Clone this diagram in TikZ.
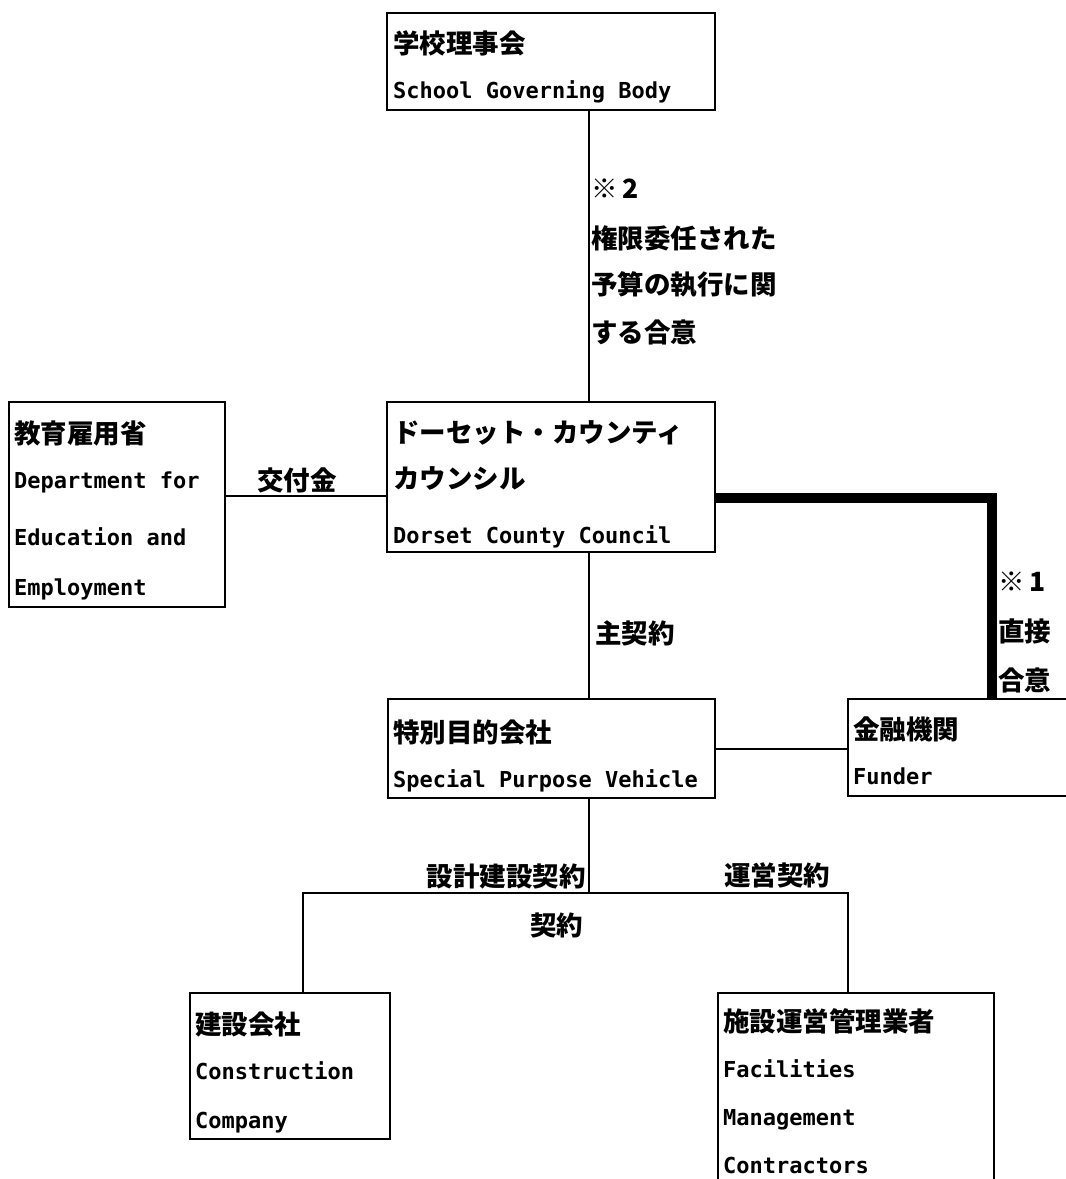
\documentclass[tikz,border=0pt]{standalone}
\usepackage{fontspec}
\setmainfont{Noto Sans CJK JP}
\newfontfamily\enfont{DejaVu Sans Mono}
\usepackage{tikz}
\usetikzlibrary{positioning}

\tikzset{
  box/.style={draw, rectangle, line width=2pt, inner sep=0pt},
  jp/.style={anchor=west, inner sep=0pt, text height=20pt, text depth=0pt,
    font=\bfseries\fontsize{26.5}{30}\selectfont},
  en/.style={anchor=west, inner sep=0pt, text height=16pt, text depth=0pt,
    font=\enfont\bfseries\fontsize{22}{26}\selectfont},
  link/.style={line width=2pt},
  heavy/.style={line width=10pt, line join=miter}
}

\begin{document}
\begin{tikzpicture}[x=1pt, y=-1pt]
  \useasboundingbox (0,0) rectangle (1066,1179);

  \node[box, minimum width=328, minimum height=97] (school) at (551,61.5) {};
  \node[box, minimum width=216, minimum height=205] (dfee) at (117,504.5) {};
  \node[box, minimum width=328, minimum height=150] (dcc) at (551,477) {};
  \node[box, minimum width=327, minimum height=99] (spv) at (551.5,748.5) {};
  \node[box, minimum width=232, minimum height=97] (funder) at (964,747.5) {};
  \node[box, minimum width=200, minimum height=146] (cc) at (290,1066) {};
  \node[box, minimum width=276, minimum height=207] (fmc) at (856,1096.5) {};

  \node[jp] (school-jp) at (393,43) {学校理事会};
  \node[en] (school-en) at (393,90) {School Governing Body};

  \node[jp] (dfee-jp) at (14,433) {教育雇用省};
  \node[en] (dfee-en1) at (14,480) {Department for};
  \node[en] (dfee-en2) at (14,537) {Education and};
  \node[en] (dfee-en3) at (14,587) {Employment};

  \node[jp] (dcc-jp1) at (393,432) {ドーセット・カウンティ};
  \node[jp] (dcc-jp2) at (393,478) {カウンシル};
  \node[en] (dcc-en) at (393,535) {Dorset County Council};

  \node[jp] (spv-jp) at (393,732) {特別目的会社};
  \node[en] (spv-en) at (393,779) {Special Purpose Vehicle};

  \node[jp] (funder-jp) at (853,729) {金融機関};
  \node[en] (funder-en) at (853,776) {Funder};

  \node[jp] (cc-jp) at (195,1024) {建設会社};
  \node[en] (cc-en1) at (195,1071) {Construction};
  \node[en] (cc-en2) at (195,1120) {Company};

  \node[jp] (fmc-jp) at (723,1021) {施設運営管理業者};
  \node[en] (fmc-en1) at (723,1069) {Facilities};
  \node[en] (fmc-en2) at (723,1117) {Management};
  \node[en] (fmc-en3) at (723,1165) {Contractors};

  \coordinate (spine) at (589,893);
  \coordinate (cctop) at (303,893);
  \coordinate (fmtop) at (848,893);
  \coordinate (grantrow) at (0,496);
  \coordinate (fundcorner) at (992,498);

  \draw[link] (school.south -| spine) -- (dcc.north -| spine);
  \draw[link] (dfee.east |- grantrow) -- (dcc.west |- grantrow);
  \draw[heavy] (dcc.east |- fundcorner) -| (funder.north -| fundcorner);
  \draw[link] (dcc.south -| spine) -- (spv.north -| spine);
  \draw[link] (spv.east) -- (spv.east -| funder.west);
  \draw[link] (spv.south -| spine) -- (spine);
  \draw[link] (cc.north -| cctop) -- (cctop) -- (fmtop) -- (fmc.north -| fmtop);

  \node[jp] (note2) at (591,188) {※\hspace{5pt}2};
  \node[jp] (deleg1) at (591,238) {権限委任された};
  \node[jp] (deleg2) at (591,284) {予算の執行に関};
  \node[jp] (deleg3) at (591,332) {する合意};
  \node[jp, anchor=center] (grant) at (297,480) {交付金};
  \node[jp] (note1) at (998,581) {※\hspace{5pt}1};
  \node[jp] (direct1) at (998,631) {直接};
  \node[jp] (direct2) at (998,680) {合意};
  \node[jp] (main) at (595,633) {主契約};
  \node[jp, anchor=east] (dbc) at (586,876) {設計建設契約};
  \node[jp] (ops) at (724,875) {運営契約};
  \node[jp] (contract) at (530,925) {契約};
\end{tikzpicture}
\end{document}
